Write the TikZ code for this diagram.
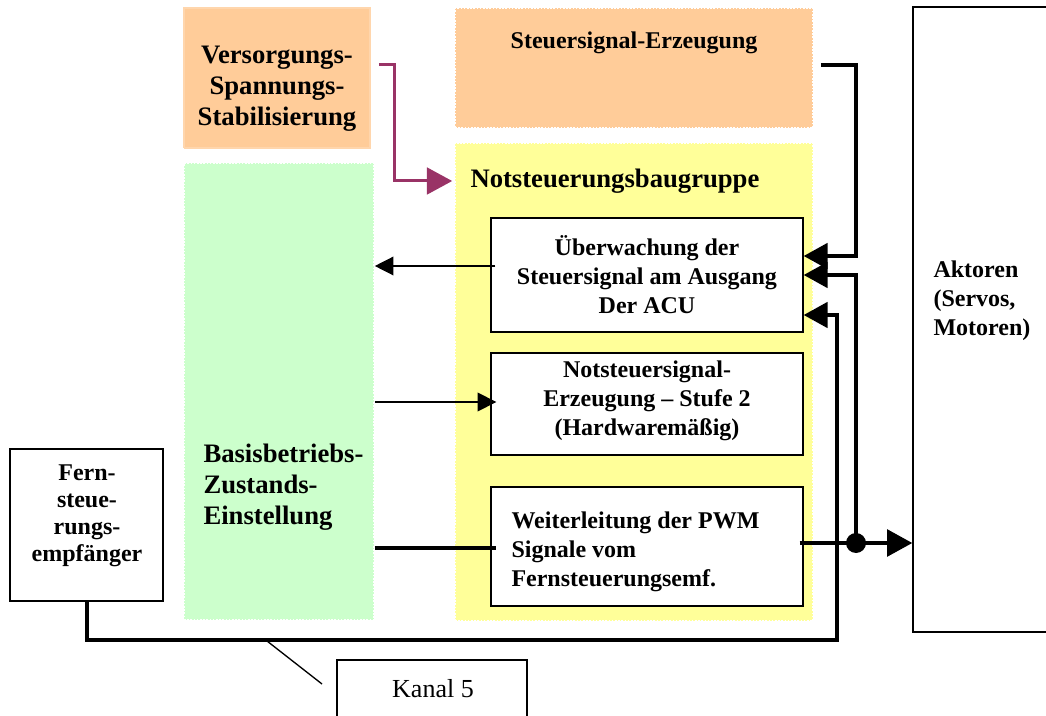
\documentclass[tikz,border=0pt]{standalone}
\usepackage{fontspec}
\setmainfont{Liberation Serif}
\usetikzlibrary{arrows.meta}

\definecolor{orangefill}{RGB}{255,204,153}
\definecolor{yellowfill}{RGB}{255,255,153}
\definecolor{greenfill}{RGB}{204,255,204}
\definecolor{plum}{RGB}{153,51,102}

\tikzset{every picture/.style={line width=0.75pt}}
\tikzset{
	block/.style={draw=black, line width=1pt, fill=white, inner sep=0pt},
	area/.style={draw=white, line width=1.2pt, dash pattern=on 1.2pt off 1.2pt, inner sep=0pt},
	boxtext/.style={font=\bfseries\fontsize{18}{21.75}\selectfont, inner sep=0pt, align=center},
	bigtext/.style={font=\bfseries\fontsize{20}{23.25}\selectfont, inner sep=0pt, align=center},
	thick line/.style={line width=3pt},
	thin line/.style={line width=1pt},
	big tip/.style={-{Triangle[length=19pt,width=20pt]}},
	mid tip/.style={-{Triangle[length=18pt,width=19pt]}},
	small tip/.style={-{Triangle[length=14pt,width=14pt]}}
}

\begin{document}
\begin{tikzpicture}[x=0.75pt,y=0.75pt,yscale=-1,xscale=1]
	\useasboundingbox (0,0) rectangle (1046,716);

	%Shape: coloured areas
	\node [area, fill=orangefill, draw=orangefill!80!white, dash pattern=on 1pt off 0pt, minimum width=139.5pt, minimum height=105pt] (versorg) at (277,78) {};
	\node [area, fill=orangefill, minimum width=268.5pt, minimum height=90pt] (steuer) at (634,68) {};
	\node [area, fill=yellowfill, minimum width=268.5pt, minimum height=358.5pt] (notbg) at (634,382) {};
	\node [area, fill=greenfill, minimum width=142.5pt, minimum height=342.75pt] (basis) at (279,391.5) {};

	%Shape: blocks
	\node [block, minimum width=234pt, minimum height=85.5pt] (ueberw) at (647,275) {};
	\node [block, minimum width=234pt, minimum height=76.5pt] (notsig) at (647,404) {};
	\node [block, minimum width=234pt, minimum height=89.25pt] (weiter) at (647,546.5) {};
	\node [block, minimum width=110.25pt, minimum height=468.75pt] (aktoren) at (986.5,319.5) {};
	\node [block, minimum width=114.75pt, minimum height=114pt] (fern) at (86.5,525) {};
	\node [block, minimum width=142.5pt, minimum height=52.5pt] (kanal) at (432,695) {};

	% Text Node
	\node [bigtext] (versorgtext) at (277,89) {Versorgungs-\\Spannungs-\\Stabilisierung};
	% Text Node
	\node [boxtext] (steuertext) at (634,43) {Steuersignal-Erzeugung};
	% Text Node
	\node [bigtext, anchor=west] (nottext) at (470,181) {Notsteuerungsbaugruppe};
	% Text Node
	\node [bigtext, anchor=west, align=left] (basistext) at (203,487) {Basisbetriebs-\\Zustands-\\Einstellung};
	% Text Node
	\node [boxtext] (ueberwtext) at (ueberw) {Überwachung der\\Steuersignal am Ausgang\\Der ACU};
	% Text Node
	\node [boxtext] (notsigtext) at (647,401) {Notsteuersignal-\\Erzeugung -- Stufe 2\\(Hardwaremäßig)};
	% Text Node
	\node [boxtext, anchor=west, align=left] (weitertext) at (511,552) {Weiterleitung der PWM\\Signale vom\\Fernsteuerungsemf.};
	% Text Node
	\node [boxtext, anchor=west, align=left] (aktorentext) at (933,301) {Aktoren\\(Servos,\\Motoren)};
	% Text Node
	\node [boxtext, font=\bfseries\fontsize{18}{20.25}\selectfont] (ferntext) at (87,516) {Fern-\\steue-\\rungs-\\empfänger};
	% Text Node
	\node [font=\fontsize{19.5}{23}\selectfont, inner sep=0pt] (kanaltext) at (433,689) {Kanal 5};

	%Straight Lines: supply to emergency unit
	\draw [plum, line width=2.25pt, big tip] ([shift={(8,-13)}]versorg.east) -| (394,181) -- ([xshift=-1.5pt]notbg.west |- nottext.west);

	%Straight Lines: control signals to monitoring
	\draw [thick line, mid tip] ([shift={(7,-3)}]steuer.east) -| (856,256) -- (ueberw.east |- 0,256);
	\coordinate (junct) at (856,543);
	\draw [thick line, mid tip] (junct) |- (ueberw.east);
	\draw [thick line, mid tip] (fern.south) |- (837,640) |- ([yshift=30pt]ueberw.east);

	%Straight Lines: PWM path to actuators
	\draw [thick line, big tip] ([shift={(-4,-3.5)}]weiter.east) -- (junct) -- (aktoren.west |- junct);
	\fill (junct) circle [radius=7.5pt];
	\draw [thick line] (basis.east |- 0,548) -- ([xshift=4.5pt]weiter.west |- 0,548);

	%Straight Lines: thin arrows
	\draw [thin line, small tip] ([shift={(5,-9)}]ueberw.west) -- (basis.east |- 0,266);
	\draw [thin line, small tip] (basis.east |- 0,402) -- ([xshift=4.5pt]notsig.west |- 0,402);

	%Straight Lines: callout
	\draw [thin line] (267,641) -- (322,684);
\end{tikzpicture}
\end{document}
